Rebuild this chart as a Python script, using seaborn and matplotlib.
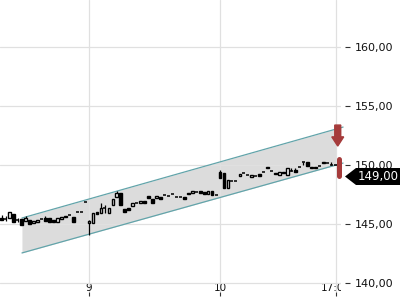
import numpy as np
import pandas as pd
import matplotlib
matplotlib.use("Agg")
import matplotlib.pyplot as plt
import seaborn as sns
from matplotlib.patches import Polygon, FancyArrow

# ---- data ----
opens = [145.48, 145.40, 145.48, 145.82, 145.31, 145.40, 145.23, 145.31, 145.06, 145.14,
         145.40, 145.48, 145.48, 145.31, 145.14, 145.40, 145.57, 145.76, 145.57, 145.99,
         145.99, 146.84, 145.06, 145.06, 145.95, 145.91, 146.33, 145.91, 146.58, 147.26,
         147.60, 146.25, 146.33, 146.50, 146.75, 146.75, 146.92, 147.35, 147.09, 147.18,
         147.26, 147.43, 147.35, 147.52, 147.26, 147.26, 147.22, 147.52, 147.60, 147.69,
         147.77, 147.69, 147.52, 147.77, 147.43, 149.38, 149.30, 148.03, 148.62, 148.62,
         149.04, 149.26, 149.13, 148.96, 149.04, 149.21, 149.38, 149.72, 149.47, 149.30,
         149.13, 149.38, 149.13, 149.47, 149.55, 149.81, 150.19, 150.23, 149.72, 149.72,
         149.89, 150.14, 150.14, 149.97, 149.97]
closes = [145.31, 145.40, 145.99, 145.14, 145.31, 144.89, 145.48, 144.97, 145.23, 145.31,
          145.40, 145.23, 145.14, 145.14, 145.48, 145.53, 145.65, 145.76, 145.14, 145.99,
          145.99, 146.84, 145.27, 145.91, 145.82, 146.33, 146.33, 146.33, 147.09, 147.60,
          146.58, 145.99, 146.16, 146.75, 146.75, 146.92, 146.75, 147.18, 146.75, 147.35,
          147.09, 147.43, 147.35, 147.52, 147.26, 147.26, 147.09, 147.64, 147.77, 147.69,
          147.60, 147.52, 147.80, 147.43, 147.43, 148.87, 148.03, 148.70, 148.62, 148.62,
          149.21, 149.26, 149.13, 149.13, 149.04, 149.04, 149.38, 149.81, 149.47, 149.17,
          149.38, 149.26, 149.72, 149.47, 149.42, 149.81, 150.19, 149.85, 149.81, 149.81,
          149.89, 150.27, 150.14, 149.97, 149.97]
highs = [145.74, 145.61, 145.99, 145.82, 145.48, 145.40, 145.61, 145.31, 145.23, 145.31,
         145.40, 145.65, 145.48, 145.31, 145.48, 145.53, 145.65, 145.76, 145.57, 145.99,
         145.99, 146.84, 145.31, 145.91, 145.95, 146.75, 146.58, 146.33, 147.09, 147.77,
         147.60, 146.25, 146.33, 146.75, 146.75, 146.92, 146.92, 147.35, 147.09, 147.35,
         147.26, 147.43, 147.35, 147.52, 147.26, 147.26, 147.22, 147.64, 147.77, 147.69,
         147.77, 147.69, 147.80, 147.77, 147.43, 149.55, 149.30, 148.70, 148.62, 148.62,
         149.21, 149.26, 149.13, 149.13, 149.04, 149.21, 149.38, 149.81, 149.47, 149.30,
         149.38, 149.38, 149.72, 149.72, 149.72, 149.81, 150.19, 150.23, 149.81, 149.81,
         149.89, 150.27, 150.14, 150.23, 149.97]
lows = [145.31, 145.23, 145.48, 145.14, 145.14, 144.89, 145.23, 144.97, 145.06, 145.14,
        145.40, 145.23, 145.14, 145.14, 145.14, 145.40, 145.57, 145.76, 145.14, 145.99,
        145.99, 146.84, 144.04, 145.06, 145.82, 145.91, 145.91, 145.91, 146.58, 147.26,
        146.58, 145.99, 146.16, 146.50, 146.75, 146.75, 146.75, 147.18, 146.75, 147.18,
        147.09, 147.43, 147.35, 147.52, 147.26, 147.26, 147.09, 147.52, 147.60, 147.69,
        147.60, 147.52, 147.52, 147.43, 147.43, 148.87, 148.03, 148.03, 148.62, 148.62,
        149.04, 149.26, 149.13, 148.96, 149.04, 149.04, 149.38, 149.72, 149.47, 149.17,
        149.13, 149.26, 149.13, 149.47, 149.42, 149.81, 149.97, 149.85, 149.72, 149.72,
        149.89, 150.14, 150.14, 149.97, 149.97]

# trend channel
chan_x = [5.1, 84.2, 86.0]
chan_upper = [145.48, 153.02, 153.19]
chan_lower = [142.52, 149.97, 150.14]

# current-bar marker range and signal arrow
marker_x = 85.0
marker_low, marker_high = 149.05, 150.45
arrow_x, arrow_top, arrow_len = 84.65, 153.36, 1.78

last_price = 149.00
last_label = "149,00"

ytick_vals = [140, 145, 150, 155, 160]
ytick_labels = ["140,00", "145,00", "150,00", "155,00", "160,00"]
xtick_pos = [22, 55, 84.2]
xtick_labels = ["9", "10", "17:00"]

# ---- drawing ----
sns.set_theme(style="white")
plt.rcParams['font.family'] = ['DejaVu Sans']

fig = plt.figure(figsize=(4, 3), dpi=100)
ax = fig.add_axes([0, 8 / 300, 341 / 400, 292 / 300])
ax.set_xlim(-0.43, 85.47)
ax.set_ylim(139.21, 163.96)
for s in ax.spines.values():
    s.set_visible(False)

# channel
ax.fill_between(chan_x[:2], chan_lower[:2], chan_upper[:2], color='#dcdcdc', lw=0, zorder=0.5)
sns.lineplot(x=chan_x, y=chan_upper, ax=ax, color='#62a4aa', lw=0.9, zorder=2, clip_on=False)
sns.lineplot(x=chan_x, y=chan_lower, ax=ax, color='#62a4aa', lw=0.9, zorder=2, clip_on=False)

# grid
ax.set_axisbelow('line')
ax.grid(True, color='#e0e0e0', lw=0.9)

# candles
o = np.array(opens); c = np.array(closes); h = np.array(highs); l = np.array(lows)
x = np.arange(len(o))
ax.vlines(x, l, h, color='black', lw=0.9, zorder=3)
doji = np.abs(c - o) < 0.02
up = c > o
body_bottom = np.minimum(o, c)
body_h = np.abs(c - o)
ax.bar(x[~doji], body_h[~doji], bottom=body_bottom[~doji], width=0.68,
       color=np.where(up[~doji], 'white', 'black'), edgecolor='black', lw=1.0, zorder=4)
ax.hlines(o[doji], x[doji] - 0.38, x[doji] + 0.38, color='black', lw=1.1, zorder=4)

# red marker and arrow
red = '#a53b3b'
ax.plot([marker_x, marker_x], [marker_low, marker_high], color=red, lw=3.6,
        solid_capstyle='round', zorder=5, clip_on=False)
ax.add_patch(FancyArrow(arrow_x, arrow_top, 0, -arrow_len, width=1.5, head_width=3.0, head_length=0.78,
                        length_includes_head=True, color=red, zorder=5, clip_on=False))

# ticks
ax.set_yticks(ytick_vals)
ax.set_yticklabels(ytick_labels)
ax.yaxis.tick_right()
ax.spines['right'].set_position(('outward', 2.9))
ax.tick_params(axis='y', which='both', right=True, left=False, direction='out', length=3.6,
               width=0.8, color='#333333', pad=3.6, labelsize=8, labelcolor='#111111')
ax.set_xticks(xtick_pos)
ax.set_xticklabels(xtick_labels)
ax.tick_params(axis='x', which='both', bottom=True, direction='out', length=2.9, width=0.8,
               color='#333333', pad=-9.4, labelsize=7.5, labelcolor='#111111')
for lab in ax.get_xticklabels():
    lab.set_clip_box(ax.bbox)
    lab.set_clip_on(True)

# last price label
y_px = ax.transData.transform((0, last_price))[1] / 300
poly = Polygon([(345 / 400, y_px), (356 / 400, y_px + 8.5 / 300), (1.0, y_px + 8.5 / 300),
                (1.0, y_px - 8.5 / 300), (356 / 400, y_px - 8.5 / 300)],
               closed=True, transform=fig.transFigure, facecolor='black', edgecolor='none')
fig.patches.append(poly)
fig.text(378 / 400, y_px, last_label, color='white', fontsize=8.5, ha='center', va='center')

fig.savefig('out.png', dpi=100)
